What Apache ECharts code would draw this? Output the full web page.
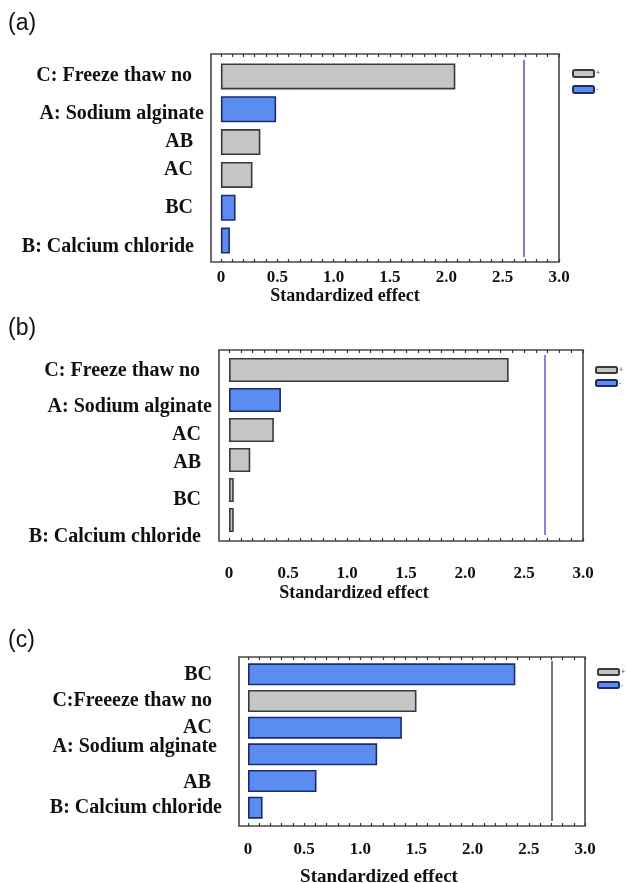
<!DOCTYPE html>
<html><head><meta charset="utf-8">
<script src="https://cdn.jsdelivr.net/npm/echarts@6/dist/echarts.min.js"></script>
<style>html,body{margin:0;padding:0;background:#fff}#c{width:627px;height:883px}</style>
</head><body><div id="c"></div>
<script>
// ---- data ----
const catsA = ['C: Freeze thaw no', 'A: Sodium alginate', 'AB', 'AC', 'BC', 'B: Calcium chloride'];
const valsA = [2.08, 0.49, 0.35, 0.28, 0.13, 0.08];
const signA = ['+', '-', '+', '+', '-', '-'];
const catsB = ['C: Freeze thaw no', 'A: Sodium alginate', 'AC', 'AB', 'BC', 'B: Calcium chloride'];
const valsB = [2.37, 0.44, 0.38, 0.18, 0.04, 0.04];
const signB = ['+', '-', '+', '+', '+', '+'];
const catsC = ['BC', 'C:Freeeze thaw no', 'AC', 'A: Sodium alginate', 'AB', 'B: Calcium chloride'];
const valsC = [2.38, 1.50, 1.37, 1.15, 0.61, 0.13];
const signC = ['-', '+', '-', '-', '-', '-'];
const criticalValues = [2.69, 2.68, 2.70];
const tickLabelValues = [0, 0.5, 1.0, 1.5, 2.0, 2.5, 3.0];
const minorTickValues = [0,0.1,0.2,0.3,0.4,0.5,0.6,0.7,0.8,0.9,1.0,1.1,1.2,1.3,1.4,1.5,1.6,1.7,1.8,1.9,2.0,2.1,2.2,2.3,2.4,2.5,2.6,2.7,2.8,2.9,3.0];
const panelNames = ['(a)', '(b)', '(c)'];
const axisName = 'Standardized effect';

// ---- layout (label nudges: [right padding, vertical shift]) ----
const panels = [
  {cats: catsA, vals: valsA, sign: signA, crit: criticalValues[0],
   box: {left: 211, top: 54, width: 348, height: 208}, inner: {top: 60, height: 197},
   min: -0.088, barW: 26, labelMargin: 7, tickMargin: 7, nameGap: 21, nameShift: 80, nameSize: 18,
   nudge: [[12, -1], [0, 5], [11, 0], [11, -5], [11, 0], [10, 6]],
   lineColor: '#5a55d2', legend: {left: 572, top: 69, h: 7, gap: 7}, title: 12},
  {cats: catsB, vals: valsB, sign: signB, crit: criticalValues[1],
   box: {left: 219, top: 350, width: 364, height: 191}, inner: {top: 355, height: 180},
   min: -0.085, barW: 24, labelMargin: 7, tickMargin: 24, nameGap: 43, nameShift: 94, nameSize: 18,
   nudge: [[12, 1], [0, 7], [11, 5], [11, 3], [11, 10], [11, 17]],
   lineColor: '#6a64d8', legend: {left: 595, top: 366, h: 6, gap: 5}, title: 317},
  {cats: catsC, vals: valsC, sign: signC, crit: criticalValues[2],
   box: {left: 239, top: 657, width: 346, height: 169}, inner: {top: 661, height: 160},
   min: -0.08, barW: 22, labelMargin: 17, tickMargin: 15, nameGap: 42, nameShift: 66, nameSize: 19,
   nudge: [[10, 0], [10, 0], [10, 0], [5, -8], [11, 2], [0, 0]],
   lineColor: '#55555e', legend: {left: 597, top: 668, h: 6, gap: 5}, title: 629}
];

function labelStyle(n) {
  const dv = n[1];
  const st = {padding: [0, n[0], 0, 0]};
  if (dv > 0) { st.verticalAlign = 'top'; st.lineHeight = 2 * dv; }
  else if (dv < 0) { st.verticalAlign = 'bottom'; st.lineHeight = -2 * dv; }
  return st;
}

const serif = 'Liberation Serif';
const grid = [], xAxis = [], yAxis = [], series = [], legend = [], title = [];
panels.forEach((p, i) => {
  const gOuter = grid.length;
  grid.push({left: p.box.left, top: p.box.top, width: p.box.width, height: p.box.height,
    show: true, borderColor: '#474747', borderWidth: 1.6, backgroundColor: '#fff',
    containLabel: false, outerBoundsMode: 'none'});
  const gInner = grid.length;
  grid.push({left: p.box.left, top: p.inner.top, width: p.box.width, height: p.inner.height,
    containLabel: false, outerBoundsMode: 'none'});

  xAxis.push({type: 'value', gridIndex: gOuter, position: 'bottom', min: p.min, max: 3.0,
    axisLine: {show: false}, splitLine: {show: false},
    axisTick: {show: true, inside: true, length: 3, customValues: minorTickValues, lineStyle: {color: '#333', width: 1.2}},
    axisLabel: {show: true, customValues: tickLabelValues, margin: p.tickMargin,
      formatter: v => (v === 0 ? '0' : v.toFixed(1)),
      fontFamily: serif, fontWeight: 'bold', fontSize: 17, color: '#111'},
    name: axisName, nameLocation: 'middle', nameGap: p.nameGap,
    nameTextStyle: {fontFamily: serif, fontWeight: 'bold', fontSize: p.nameSize, color: '#111', padding: [0, p.nameShift, 0, 0]}
  });
  xAxis.push({type: 'value', gridIndex: gOuter, position: 'top', min: p.min, max: 3.0,
    axisLine: {show: false}, splitLine: {show: false}, axisLabel: {show: false},
    axisTick: {show: true, inside: true, length: 3, customValues: minorTickValues, lineStyle: {color: '#333', width: 1.2}}
  });
  const xi = xAxis.length;
  xAxis.push({type: 'value', gridIndex: gInner, min: p.min, max: 3.0, show: false, splitLine: {show: false}});

  yAxis.push({type: 'value', gridIndex: gOuter, show: false, splitLine: {show: false}});
  const yi = yAxis.length;
  yAxis.push({type: 'category', gridIndex: gInner, inverse: true,
    data: p.cats.map((c, j) => ({value: c, textStyle: labelStyle(p.nudge[j])})),
    axisLine: {show: false}, axisTick: {show: false}, splitLine: {show: false},
    axisLabel: {margin: p.labelMargin, fontFamily: serif, fontWeight: 'bold', fontSize: 20, color: '#111'}});

  series.push({type: 'bar', name: '+', xAxisIndex: xi, yAxisIndex: yi, barWidth: p.barW, barGap: '-100%',
    data: p.vals.map((v, j) => p.sign[j] === '+' ? v : '-'),
    itemStyle: {color: '#c5c5c5', borderColor: '#3a3a3a', borderWidth: 1.6},
    markLine: {silent: true, symbol: 'none', label: {show: false},
      lineStyle: {color: p.lineColor, width: 1.6, type: 'solid'},
      data: [{xAxis: p.crit}]}
  });
  series.push({type: 'bar', name: '-', xAxisIndex: xi, yAxisIndex: yi, barWidth: p.barW, barGap: '-100%',
    data: p.vals.map((v, j) => p.sign[j] === '-' ? v : '-'),
    itemStyle: {color: '#5b8cf0', borderColor: '#1d2b6e', borderWidth: 1.6}
  });

  legend.push({data: ['+', '-'], orient: 'vertical', left: p.legend.left, top: p.legend.top,
    itemWidth: 21, itemHeight: p.legend.h, itemGap: p.legend.gap, icon: 'roundRect', padding: 0,
    selectedMode: false,
    textStyle: {fontSize: 7, color: '#444', padding: [0, 0, 0, -3]}});

  title.push({text: panelNames[i], left: 8, top: p.title, padding: 0,
    textStyle: {fontFamily: 'Liberation Sans', fontSize: 23, fontWeight: 'normal', color: '#111'}});
});

const chart = echarts.init(document.getElementById('c'), null, {renderer: 'canvas'});
chart.setOption({animation: false, backgroundColor: '#fff', title, grid, xAxis, yAxis, series, legend});
</script>
</body></html>
